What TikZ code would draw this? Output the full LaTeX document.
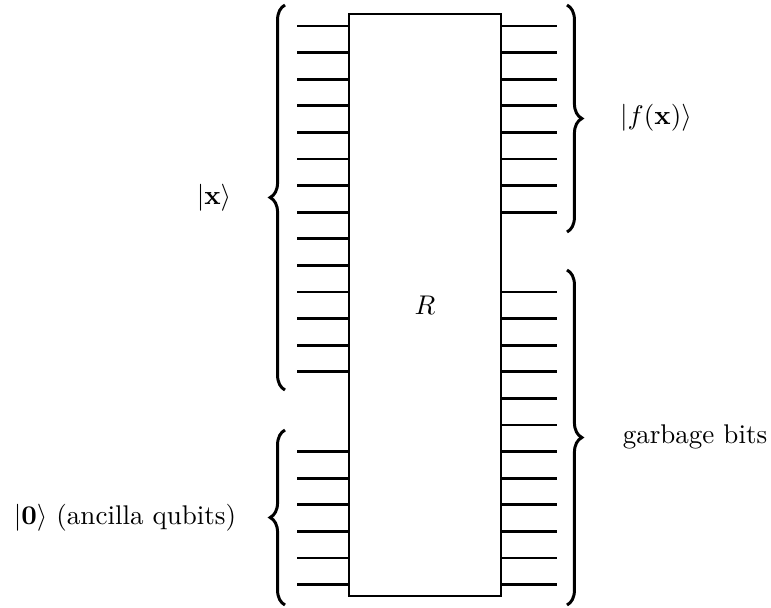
\documentclass[tikz,border=0pt]{standalone}
\usepackage{amsmath, amssymb}
\usepackage{tikz}
\usetikzlibrary{calc, decorations.pathreplacing}

\begin{document}
\begin{tikzpicture}[x=0.37pt, y=-0.37pt,
    wire/.style={line width=1pt},
    brc/.style={line width=1.1pt, decorate,
      decoration={brace, amplitude=5.5pt, aspect=0.5}}]
      \useasboundingbox (0,0) rectangle (771,607);

      % 1. the gate R
      \node[draw, line width=1pt, minimum width=56.2pt, minimum height=215.3pt,
            inner sep=0pt] (R) at (425,305) {$R$};

      % 2. input wires (left)
      \foreach \k in {0,...,13} {
        \coordinate (l\k) at (297,{26+26.6*\k});
        \draw[wire] (l\k) -- (l\k -| R.west);
      }
      \foreach \k in {16,...,21} {
        \coordinate (l\k) at (297,{26+26.6*\k});
        \draw[wire] (l\k) -- (l\k -| R.west);
      }

      % 3. output wires (right)
      \foreach \k in {0,...,7} {
        \coordinate (r\k) at (557,{26+26.6*\k});
        \draw[wire] (r\k -| R.east) -- (r\k);
      }
      \foreach \k in {10,...,21} {
        \coordinate (r\k) at (557,{26+26.6*\k});
        \draw[wire] (r\k -| R.east) -- (r\k);
      }

      % 4. braces
      \coordinate (bx1) at (285,390); \coordinate (bx2) at (285,5);
      \coordinate (bz1) at (285,605); \coordinate (bz2) at (285,430);
      \coordinate (bf1) at (567,5);   \coordinate (bf2) at (567,232);
      \coordinate (bg1) at (567,270); \coordinate (bg2) at (567,605);
      \draw[brc] (bx1) -- (bx2);
      \draw[brc] (bz1) -- (bz2);
      \draw[brc] (bf1) -- (bf2);
      \draw[brc] (bg1) -- (bg2);

      % 5. labels
      \node (x) at (214,198) {$|\mathbf{x}\rangle$};
      \node (z) at (125,518) {$|\mathbf{0}\rangle$ (ancilla qubits)};
      \node (f) at (656,118) {$|f(\mathbf{x})\rangle$};
      \node (g) at (695,437) {garbage bits};
    \end{tikzpicture}
\end{document}
